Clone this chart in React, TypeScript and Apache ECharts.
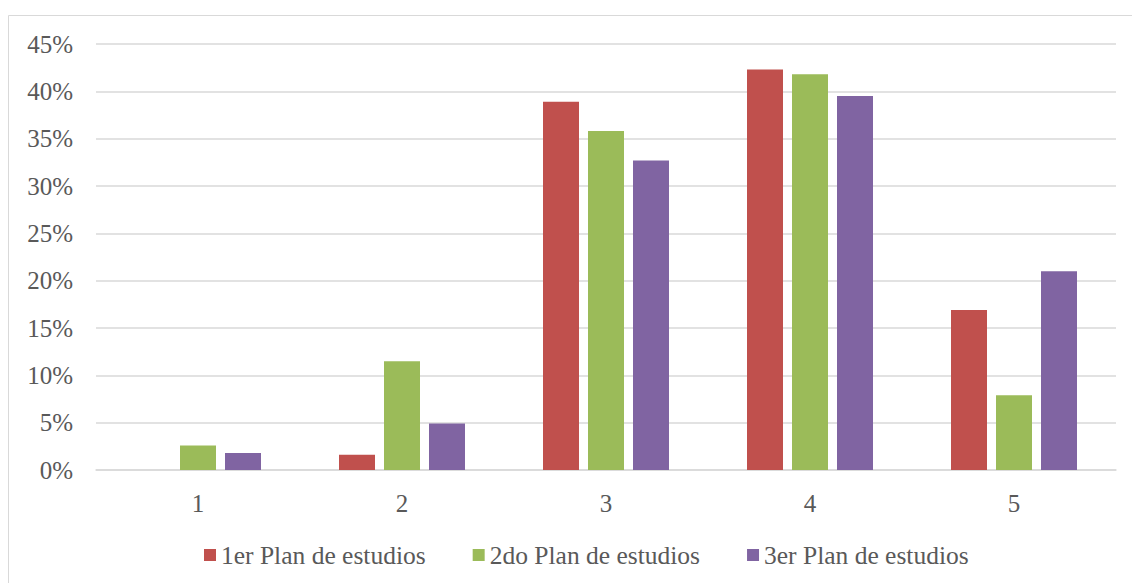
import React, { useEffect, useRef } from "react";
import * as echarts from "echarts";

const categories = ["1", "2", "3", "4", "5"];
const seriesNames = ["1er Plan de estudios", "2do Plan de estudios", "3er Plan de estudios"];
const plan1 = [0, 1.6, 38.9, 42.3, 16.9];
const plan2 = [2.6, 11.5, 35.8, 41.8, 7.9];
const plan3 = [1.8, 4.9, 32.7, 39.5, 21.0];
const colors = ["#C0504D", "#9BBB59", "#8064A2"];

const FONT = "'Liberation Serif', serif";
const TEXT = "#595959";

export default function App() {
  const ref = useRef<HTMLDivElement>(null);
  useEffect(() => {
    if (!ref.current) return;
    const chart = echarts.init(ref.current, null, { renderer: "svg" });
    const data = [plan1, plan2, plan3];
    chart.setOption({
      animation: false,
      backgroundColor: "#ffffff",
      textStyle: { fontFamily: FONT, color: TEXT },
      graphic: [
        {
          type: "polyline",
          silent: true,
          shape: { points: [[8.5, 583], [8.5, 15.5], [1132, 15.5]] },
          style: { stroke: "#D9D9D9", lineWidth: 1, fill: "none" },
        },
      ],
      grid: { left: 96, right: 16, top: 44, bottom: 113, containLabel: false },
      legend: {
        bottom: 10,
        left: 199,
        itemWidth: 12,
        itemHeight: 12,
        itemGap: 47,
        icon: "rect",
        textStyle: { fontFamily: FONT, fontSize: 25.5, color: TEXT },
        data: seriesNames,
      },
      xAxis: {
        type: "category",
        data: categories,
        axisLine: { lineStyle: { color: "#D9D9D9", width: 1.5 } },
        axisTick: { show: false },
        axisLabel: { fontFamily: FONT, fontSize: 25, color: TEXT, margin: 21 },
      },
      yAxis: {
        type: "value",
        min: 0,
        max: 45,
        interval: 5,
        axisLine: { show: false },
        axisTick: { show: false },
        splitLine: { lineStyle: { color: "#D9D9D9", width: 1.5 } },
        axisLabel: { fontFamily: FONT, fontSize: 25, color: TEXT, margin: 23, formatter: "{value}%" },
      },
      series: data.map((d, i) => ({
        name: seriesNames[i],
        type: "bar",
        data: d,
        barWidth: 36,
        barGap: "25%",
        itemStyle: { color: colors[i] },
      })),
    });
    return () => chart.dispose();
  }, []);
  return (
    <div
      ref={ref}
      style={{ position: "fixed", left: 0, top: 0, width: 1132, height: 583 }}
    />
  );
}
